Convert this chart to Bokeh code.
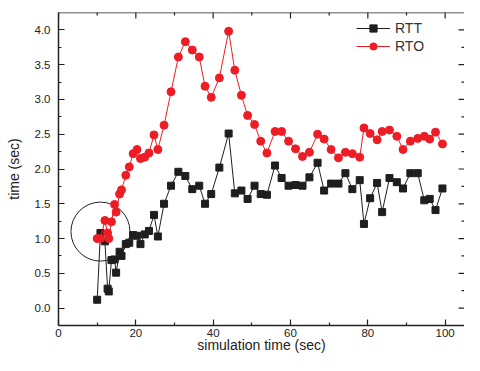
import math
from bokeh.plotting import figure
from bokeh.models import (Range1d, FixedTicker, PrintfTickFormatter,
                          Legend, LegendItem, Span)
from bokeh.embed import file_html
from bokeh.resources import INLINE

# ---- data ----
time_s = [10.0, 10.85, 12.0, 12.7, 13.0, 13.7, 14.5, 14.9, 15.8, 16.3,
          17.4, 18.3, 19.3, 20.3, 21.2, 22.3, 23.4, 24.7, 25.7, 27.3,
          29.1, 31.0, 32.8, 34.6, 36.4, 37.9, 39.5, 41.6, 44.0, 45.6,
          47.3, 48.9, 50.7, 52.3, 53.9, 56.0, 57.7, 59.5, 61.3, 63.1,
          64.9, 67.0, 68.7, 70.5, 72.4, 74.2, 76.0, 77.9, 79.0, 80.6,
          82.4, 83.7, 85.6, 87.5, 89.1, 91.0, 92.9, 94.6, 96.0, 97.5, 99.3]

rtt = [0.12, 1.08, 0.96, 0.28, 0.24, 0.69, 0.70, 0.51, 0.81, 0.75,
       0.92, 0.94, 1.05, 1.04, 0.92, 1.06, 1.11, 1.34, 1.03, 1.50,
       1.76, 1.96, 1.90, 1.71, 1.76, 1.50, 1.64, 2.02, 2.51, 1.65,
       1.69, 1.57, 1.76, 1.64, 1.63, 2.05, 1.87, 1.76, 1.77, 1.76,
       1.88, 2.09, 1.69, 1.79, 1.79, 1.94, 1.71, 1.84, 1.21, 1.58,
       1.80, 1.38, 1.87, 1.81, 1.72, 1.94, 1.94, 1.55, 1.57, 1.41, 1.72]

rto = [1.00, 1.00, 1.26, 1.08, 1.00, 1.24, 1.49, 1.38, 1.64, 1.70,
       1.91, 2.03, 2.22, 2.28, 2.15, 2.17, 2.23, 2.49, 2.28, 2.63,
       3.11, 3.61, 3.83, 3.71, 3.61, 3.19, 3.03, 3.31, 3.98, 3.42,
       3.06, 2.77, 2.64, 2.40, 2.23, 2.54, 2.54, 2.40, 2.29, 2.18,
       2.24, 2.50, 2.43, 2.28, 2.16, 2.24, 2.22, 2.17, 2.59, 2.51,
       2.42, 2.54, 2.56, 2.47, 2.28, 2.40, 2.44, 2.47, 2.43, 2.53, 2.36]

series_names = ["RTT", "RTO"]
x_major = [0, 20, 40, 60, 80, 100]
x_minor = [10, 30, 50, 70, 90]
y_major = [0.0, 0.5, 1.0, 1.5, 2.0, 2.5, 3.0, 3.5, 4.0]
y_minor = [0.25, 0.75, 1.25, 1.75, 2.25, 2.75, 3.25, 3.75]
x_start, x_end = 0, 105
y_start, y_end = -0.25, 4.25
highlight_x = [10.85]
highlight_y = [1.10]

FONT = "Liberation Sans"
RED = "#ee1c25"
BLACK = "#1e1e1e"
AX = "#222222"

p = figure(width=464, height=355, output_backend="svg", toolbar_location=None,
           x_range=Range1d(x_start, x_end), y_range=Range1d(y_start, y_end),
           min_border_left=58, min_border_right=0, min_border_top=12,
           min_border_bottom=29)
p.xgrid.visible = False
p.ygrid.visible = False
p.outline_line_color = None
p.background_fill_color = "white"
p.border_fill_color = "white"


def style_axis(ax, ticks, minor):
    ax.ticker = FixedTicker(ticks=ticks, minor_ticks=minor)
    ax.major_tick_in = 6
    ax.major_tick_out = 0
    ax.minor_tick_in = 3
    ax.minor_tick_out = 0
    ax.axis_line_width = 1.5
    ax.axis_line_color = AX
    ax.major_tick_line_color = AX
    ax.minor_tick_line_color = AX
    ax.major_tick_line_width = 1.2
    ax.minor_tick_line_width = 1.2


# bottom axis
xa = p.xaxis[0]
style_axis(xa, x_major, x_minor)
xa.axis_label = "simulation time (sec)"
xa.axis_label_text_font = FONT
xa.axis_label_text_font_size = "14px"
xa.axis_label_text_font_style = "normal"
xa.axis_label_text_color = AX
xa.axis_label_standoff = -3
xa.major_label_text_font = FONT
xa.major_label_text_font_size = "11.5px"
xa.major_label_text_color = AX
xa.major_label_standoff = 3

# left axis
ya = p.yaxis[0]
style_axis(ya, y_major, y_minor)
ya.formatter = PrintfTickFormatter(format="%.1f")
ya.axis_label = "time (sec)"
ya.axis_label_text_font = FONT
ya.axis_label_text_font_size = "14px"
ya.axis_label_text_font_style = "normal"
ya.axis_label_text_color = AX
ya.axis_label_standoff = 10
ya.major_label_text_font = FONT
ya.major_label_text_font_size = "11.5px"
ya.major_label_text_color = AX
ya.major_label_standoff = 8

# top frame line and inward ticks on top / right edges (clipped to frame)
p.add_layout(Span(location=y_end, dimension="width", line_color=AX,
                  line_width=1.5))
p.scatter([x_end] * len(y_major), y_major, marker="dash", size=12,
          line_color=AX, line_width=1.2)
p.scatter([x_end] * len(y_minor), y_minor, marker="dash", size=6,
          line_color=AX, line_width=1.2)
p.scatter(x_major, [y_end] * len(x_major), marker="dash", size=12,
          angle=math.pi / 2, line_color=AX, line_width=1.2)
p.scatter(x_minor, [y_end] * len(x_minor), marker="dash", size=6,
          angle=math.pi / 2, line_color=AX, line_width=1.2)

# highlight circle
p.scatter(highlight_x, highlight_y, marker="circle", size=59,
          fill_color=None, line_color=AX, line_width=1)

# series
rtt_line = p.line(time_s, rtt, line_color=BLACK, line_width=1)
rtt_pts = p.scatter(time_s, rtt, marker="square", size=7,
                    fill_color=BLACK, line_color=BLACK)
rto_line = p.line(time_s, rto, line_color=RED, line_width=1)
rto_pts = p.scatter(time_s, rto, marker="circle", size=8,
                    fill_color=RED, line_color=RED)

legend = Legend(items=[LegendItem(label=series_names[0], renderers=[rtt_line, rtt_pts]),
                       LegendItem(label=series_names[1], renderers=[rto_line, rto_pts])],
                location=(298, 270), border_line_color=None,
                background_fill_alpha=0, label_text_font=FONT,
                label_text_font_size="14px", label_text_color="#333333",
                glyph_width=34, glyph_height=18, spacing=0, padding=0,
                margin=0, label_standoff=5, label_height=18)
p.add_layout(legend)

open("out.html", "w").write(file_html(p, INLINE))
